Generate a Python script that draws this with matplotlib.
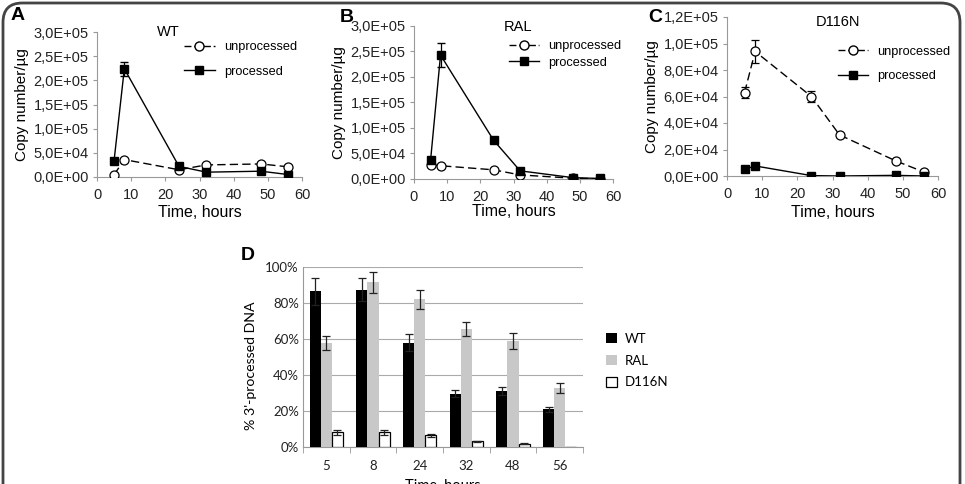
import matplotlib.pyplot as plt
import numpy as np
from matplotlib.lines import Line2D
from matplotlib.patches import FancyBboxPatch
from matplotlib.ticker import FuncFormatter

# Panels A-C: copy number per ug over time
hours = [5, 8, 24, 32, 48, 56]

wt_unproc = [4.8e3, 3.6e4, 1.5e4, 2.5e4, 2.7e4, 2.1e4]
wt_proc = [3.4e4, 2.24e5, 2.2e4, 1.0e4, 1.2e4, 5.0e3]
wt_proc_err = [0, 1.4e4, 0, 0, 0, 0]

ral_unproc = [2.7e4, 2.6e4, 1.8e4, 8.0e3, 1.5e3, 5.0e2]
ral_proc = [3.7e4, 2.43e5, 7.6e4, 1.6e4, 2.6e3, 1.0e3]
ral_proc_err = [0, 2.4e4, 0, 0, 0, 0]

d116n_unproc = [6.3e4, 9.4e4, 6.0e4, 3.1e4, 1.14e4, 3.0e3]
d116n_unproc_err = [4.0e3, 9.0e3, 4.0e3, 0, 0, 0]
d116n_proc = [5.0e3, 7.6e3, 3.0e2, 0.0, 5.0e2, 0.0]

# Panel D: % 3'-processed DNA
categories = ["5", "8", "24", "32", "48", "56"]
pct_wt = [86.5, 87.4, 58.0, 29.6, 30.9, 21.0]
pct_wt_err = [7.5, 6.5, 4.6, 2.0, 2.2, 1.5]
pct_ral = [57.8, 91.5, 82.0, 65.7, 59.0, 33.0]
pct_ral_err = [3.7, 5.7, 5.4, 4.0, 4.3, 2.8]
pct_d116n = [8.1, 8.1, 6.5, 3.1, 1.8, 0.0]
pct_d116n_err = [1.5, 1.2, 0.7, 0.4, 0.3, 0.0]

FONT = "Liberation Sans"
W, H = 965, 484
fig = plt.figure(figsize=(W / 100, H / 100), dpi=100)

# rounded frame around the whole figure (bottom edge falls outside the crop)
frame = FancyBboxPatch((3 / W, -0.2), 957 / W, 1.2 - 3 / H,
                       boxstyle="round,pad=0,rounding_size=0.02",
                       transform=fig.transFigure, fill=False,
                       edgecolor="#444444", linewidth=2, zorder=0,
                       mutation_aspect=2)
fig.patches.append(frame)

sci = FuncFormatter(lambda v, p: f"{v:.1E}".replace(".", ","))
axcol = "#999999"


def line_panel(rect, unproc, proc, ymax, ystep, title, title_xy,
               letter, letter_xy, leg_xy, leg_space, xlabelpad,
               unproc_err=None, proc_err=None):
    ax = fig.add_axes(rect)
    ax.errorbar(hours, unproc, yerr=unproc_err, color="black", ls=(0, (6, 3)),
                lw=1, marker="o", ms=6.5, mfc="white", mec="black", mew=0.9,
                capsize=3, elinewidth=0.9, zorder=3)
    ax.errorbar(hours, proc, yerr=proc_err, color="black", ls="-", lw=1,
                marker="s", ms=6, mfc="black", mec="black",
                capsize=3, elinewidth=0.9, zorder=4)
    ax.set_xlim(0, 60)
    ax.set_ylim(0, ymax)
    ax.set_xticks(range(0, 61, 10))
    ax.set_yticks(np.arange(0, ymax + 1, ystep))
    ax.yaxis.set_major_formatter(sci)
    for s in ("top", "right"):
        ax.spines[s].set_visible(False)
    for s in ("left", "bottom"):
        ax.spines[s].set_color(axcol)
    ax.tick_params(color=axcol, length=3, labelsize=10.5, pad=3)
    ax.tick_params(axis="x", pad=5)
    for t in ax.get_xticklabels() + ax.get_yticklabels():
        t.set_fontfamily(FONT)
        t.set_color("#222222")
    ax.set_xlabel("Time, hours", fontsize=11.5, family=FONT,
                  labelpad=xlabelpad)
    ax.set_ylabel("Copy number/\u00b5g", fontsize=11, family=FONT, labelpad=3)
    ax.text(title_xy[0], title_xy[1], title, fontsize=10.5, family=FONT,
            ha="center", va="center", transform=fig.transFigure)
    handles = [
        Line2D([], [], color="black", ls=(0, (5, 2)), lw=1, marker="o",
               ms=6.5, mfc="white", mec="black"),
        Line2D([], [], color="black", ls="-", lw=1, marker="s", ms=6,
               mfc="black"),
    ]
    ax.legend(handles, ["unprocessed", "processed"], loc="upper left",
              bbox_to_anchor=leg_xy, frameon=False, handlelength=2.4,
              handletextpad=0.7, labelspacing=leg_space,
              prop={"family": FONT, "size": 9.2}, borderaxespad=0)
    fig.text(letter_xy[0], letter_xy[1], letter, fontsize=14, weight="bold",
             family=FONT, ha="center", va="center")
    return ax


line_panel([97 / W, 1 - 177 / H, 205 / W, 145 / H], wt_unproc, wt_proc,
           3.0e5, 0.5e5, "WT", (168 / W, 1 - 32 / H), "A",
           (18 / W, 1 - 15 / H), (0.40, 0.97), 0.95, 2, proc_err=wt_proc_err)
line_panel([414 / W, 1 - 179 / H, 199 / W, 153 / H], ral_unproc, ral_proc,
           3.0e5, 0.5e5, "RAL", (518 / W, 1 - 27 / H), "B",
           (347 / W, 1 - 17 / H), (0.45, 0.94), 0.35, 0,
           proc_err=ral_proc_err)
line_panel([727 / W, 1 - 176 / H, 211 / W, 159 / H], d116n_unproc, d116n_proc,
           1.2e5, 0.2e5, "D116N", (838 / W, 1 - 22 / H), "C",
           (655 / W, 1 - 17 / H), (0.50, 0.85), 0.95, 3,
           unproc_err=d116n_unproc_err)

# Panel D: grouped bars
axd = fig.add_axes([303 / W, 1 - 447 / H, 280 / W, 180 / H])
x = np.arange(len(categories))
bw = 0.236
ekw = dict(capsize=3, elinewidth=0.9, ecolor="#222222", capthick=0.9)
axd.bar(x - bw, pct_wt, bw, yerr=pct_wt_err, color="black", label="WT",
        error_kw=ekw, zorder=3)
axd.bar(x, pct_ral, bw, yerr=pct_ral_err, color="#c8c8c8", label="RAL",
        error_kw=ekw, zorder=3)
axd.bar(x + bw, pct_d116n, bw, color="white", edgecolor="black",
        linewidth=0.9, label="D116N", zorder=3)
shown = [i for i, v in enumerate(pct_d116n) if v > 0]
axd.errorbar(x[shown] + bw, [pct_d116n[i] for i in shown],
             yerr=[pct_d116n_err[i] for i in shown], fmt="none", zorder=4,
             **ekw)
axd.set_xlim(-0.5, len(categories) - 0.5)
axd.set_ylim(0, 100)
axd.set_yticks(range(0, 101, 20))
axd.yaxis.set_major_formatter(FuncFormatter(lambda v, p: f"{v:.0f}%"))
axd.set_xticks(x)
axd.set_xticklabels(categories)
axd.set_xticks(np.arange(-0.5, len(categories)), minor=True)
axd.tick_params(axis="x", which="major", length=0, labelsize=9.5, pad=9)
axd.tick_params(axis="x", which="minor", length=4, color=axcol)
axd.tick_params(axis="y", length=0, labelsize=9.5, pad=3)
for t in axd.get_xticklabels() + axd.get_yticklabels():
    t.set_fontfamily("Lato")
    t.set_color("#222222")
axd.grid(axis="y", color="#aaaaaa", lw=0.8, zorder=0)
for s in ("top", "right"):
    axd.spines[s].set_visible(False)
for s in ("left", "bottom"):
    axd.spines[s].set_color(axcol)
axd.set_ylabel("% 3'-processed DNA", fontsize=10.2, family="Lato", labelpad=4)
axd.yaxis.set_label_coords(-0.165, 0.45)
axd.set_xlabel("Time, hours", fontsize=10.5, family="Lato", labelpad=5)
axd.legend(loc="center left", bbox_to_anchor=(1.04, 0.48), frameon=False,
           handlelength=0.8, handleheight=0.8, handletextpad=0.6,
           labelspacing=0.75, prop={"family": "Lato", "size": 9.5})
fig.text(248 / W, 1 - 255 / H, "D", fontsize=14, weight="bold",
         family=FONT, ha="center", va="center")

fig.savefig("out.png", dpi=100)
